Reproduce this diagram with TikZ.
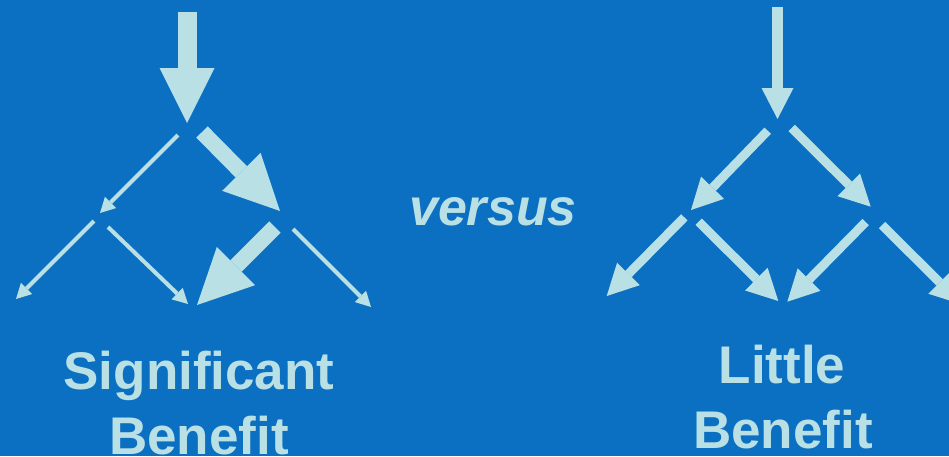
\documentclass[tikz,border=0pt]{standalone}
\usepackage{fontspec}
\setmainfont{Liberation Sans}
\usetikzlibrary{arrows.meta}
\definecolor{bgblue}{RGB}{11,111,194}
\definecolor{pale}{RGB}{185,224,228}
\begin{document}
\begin{tikzpicture}[x=1pt,y=-1pt,
  arr/.style={draw=pale,line cap=butt},
  huge/.style={arr,line width=19pt,-{Triangle[length=55pt,width=55pt,line width=0pt]}},
  big/.style={arr,line width=16pt,-{Triangle[length=55pt,width=54pt,line width=0pt]}},
  thin/.style={arr,line width=4pt,-{Triangle[length=15pt,width=16pt,line width=0pt]}},
  topmid/.style={arr,line width=11pt,-{Triangle[length=31pt,width=32pt,line width=0pt]}},
  mid/.style={arr,line width=9pt,-{Triangle[length=31pt,width=32pt,line width=0pt]}},
  lab/.style={text=pale,font=\fontsize{53}{65}\selectfont\bfseries,inner sep=0pt,anchor=base}]
\useasboundingbox (0,0) rectangle (949,456);
\fill[bgblue] (0,0) rectangle (949,456);
\begin{scope}
\clip (0,0) rectangle (949,456);
% left tree
\coordinate (a0) at (187,12);   \coordinate (a1) at (187,123);
\coordinate (b0) at (178,135);  \coordinate (b1) at (100,213);
\coordinate (c0) at (202,132);  \coordinate (c1) at (280,211);
\coordinate (d0) at (94,221);   \coordinate (d1) at (16,299);
\coordinate (e0) at (108,227);  \coordinate (e1) at (188,304);
\coordinate (f0) at (275,227);  \coordinate (f1) at (197,305);
\coordinate (g0) at (293,229);  \coordinate (g1) at (371,307);
\draw[huge] (a0) -- (a1);
\draw[thin] (b0) -- (b1);
\draw[big]  (c0) -- (c1);
\draw[thin] (d0) -- (d1);
\draw[thin] (e0) -- (e1);
\draw[big]  (f0) -- (f1);
\draw[thin] (g0) -- (g1);
% right tree
\coordinate (p0) at (777.5,7);    \coordinate (p1) at (777.5,119);
\coordinate (q0) at (767.7,130.7);\coordinate (q1) at (691,210);
\coordinate (r0) at (791.7,128);  \coordinate (r1) at (870.7,206.7);
\coordinate (s0) at (684.3,217.3);\coordinate (s1) at (606.7,296);
\coordinate (t0) at (698.7,221.7);\coordinate (t1) at (778.3,301);
\coordinate (u0) at (865.7,222);  \coordinate (u1) at (787.3,301.7);
\coordinate (v0) at (882,225);    \coordinate (v1) at (961.6,304.3);
\draw[topmid] (p0) -- (p1);
\draw[mid] (q0) -- (q1);
\draw[mid] (r0) -- (r1);
\draw[mid] (s0) -- (s1);
\draw[mid] (t0) -- (t1);
\draw[mid] (u0) -- (u1);
\draw[mid] (v0) -- (v1);
\end{scope}
% labels
\node[lab] (sig) at (199,389) {Significant};
\node[lab] (sigb) at (199,454) {Benefit};
\node[lab] (lit) at (782,383) {Little};
\node[lab] (litb) at (783,448) {Benefit};
\node[lab,font=\fontsize{52}{62}\selectfont\bfseries\itshape] (vs) at (493,225) {versus};
\end{tikzpicture}
\end{document}
